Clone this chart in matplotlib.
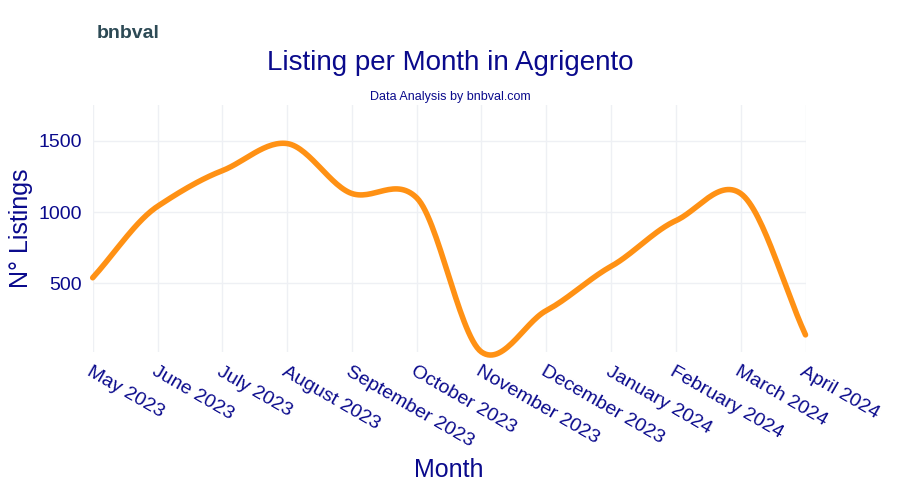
import numpy as np
import matplotlib.pyplot as plt

plt.rcParams["font.family"] = "Liberation Sans"

months = ["May 2023", "June 2023", "July 2023", "August 2023", "September 2023",
          "October 2023", "November 2023", "December 2023", "January 2024",
          "February 2024", "March 2024", "April 2024"]
listings = [540, 1040, 1290, 1480, 1130, 1100, 20, 310, 620, 940, 1130, 140]

# catmull-rom style smoothing, similar to plotly's spline
def spline(y, n=30, t=0.4):
    y = np.asarray(y, float)
    x = np.arange(len(y), dtype=float)
    xs, ys = [], []
    for i in range(len(y) - 1):
        m0 = t * (y[i + 1] - y[i - 1]) if i > 0 else (y[1] - y[0])
        m1 = t * (y[i + 2] - y[i]) if i < len(y) - 2 else (y[-1] - y[-2])
        s = np.linspace(0, 1, n, endpoint=False)
        h00 = 2*s**3 - 3*s**2 + 1
        h10 = s**3 - 2*s**2 + s
        h01 = -2*s**3 + 3*s**2
        h11 = s**3 - s**2
        xs.append(x[i] + s)
        ys.append(h00*y[i] + h10*m0 + h01*y[i+1] + h11*m1)
    xs.append([x[-1]]); ys.append([y[-1]])
    return np.concatenate(xs), np.concatenate(ys)

navy = "#0a0a8c"
fig = plt.figure(figsize=(9, 5), dpi=100)
ax = fig.add_axes([0.103, 0.296, 0.792, 0.494])
sx, sy = spline(listings)
ax.plot(sx, sy, color="#ff9114", lw=4, solid_capstyle="round", clip_on=False)
ax.set_xlim(0, len(months) - 1)
ax.set_ylim(20, 1750)
ax.set_yticks([500, 1000, 1500])
ax.set_xticks(range(len(months)))
ax.set_xticklabels(months, rotation=-30, ha="left", rotation_mode="anchor")
ax.tick_params(length=0, labelsize=14, colors=navy, pad=8)
ax.grid(color="#eef0f4", lw=1)
for s in ax.spines.values():
    s.set_visible(False)
ax.set_xlabel("Month", fontsize=18, color=navy, labelpad=6)
ax.set_ylabel("N° Listings", fontsize=18, color=navy)

fig.text(0.5, 0.86, "Listing per Month in Agrigento", ha="center", fontsize=20, color=navy)
fig.text(0.5, 0.8, "Data Analysis by bnbval.com", ha="center", fontsize=9, color=navy)
fig.text(0.108, 0.925, "bnbval", fontsize=14, fontweight="bold", color="#2d4a55")
fig.savefig("out.png")
